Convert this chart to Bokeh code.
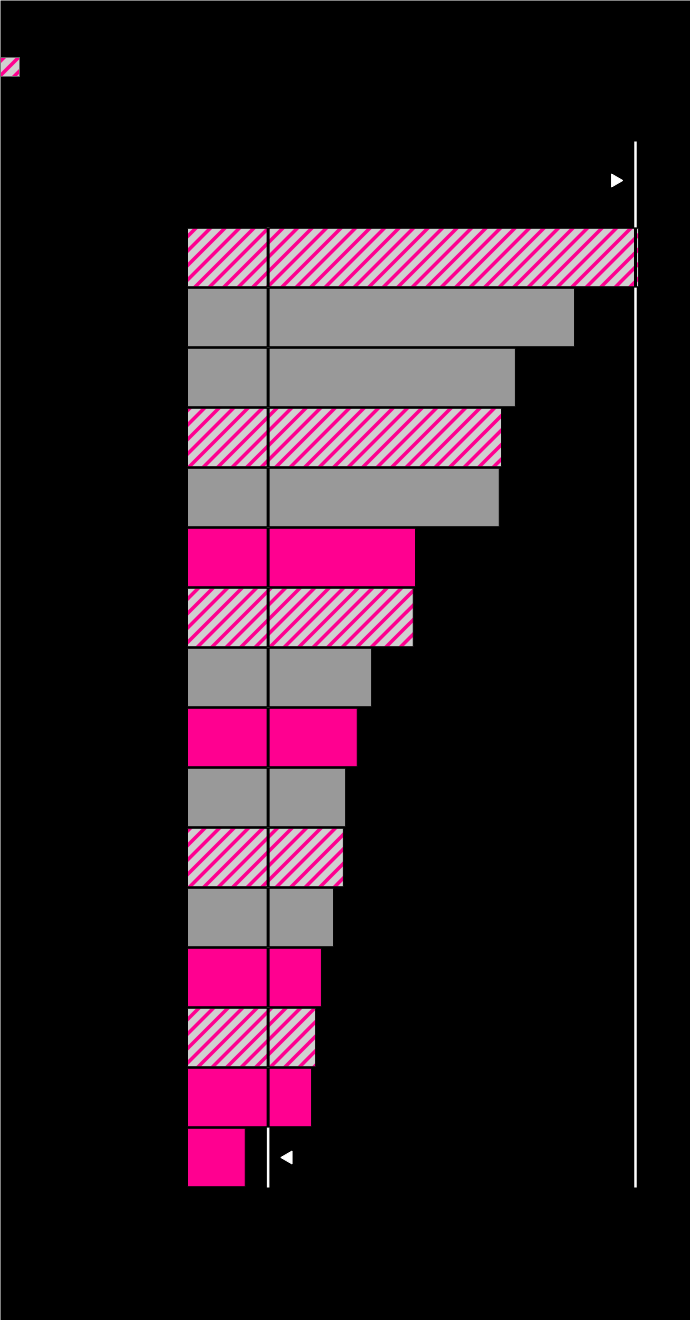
import math
from bokeh.plotting import figure
from bokeh.models import Range1d, ColumnDataSource
from bokeh.embed import file_html
from bokeh.resources import INLINE

# ---- data ----
categories = ["Item 1", "Item 2", "Item 3", "Item 4", "Item 5", "Item 6", "Item 7", "Item 8",
              "Item 9", "Item 10", "Item 11", "Item 12", "Item 13", "Item 14", "Item 15", "Item 16"]
values = [100.7, 86.4, 73.2, 70.1, 69.6, 50.9, 50.4, 41.1, 37.9, 35.3, 34.8, 32.6, 29.9, 28.6, 27.7, 12.9]
kinds = ["hatched", "gray", "gray", "hatched", "gray", "pink", "hatched", "gray",
         "pink", "gray", "hatched", "gray", "pink", "hatched", "pink", "pink"]
target_value = 100
floor_value = 18

# ---- layout / style ----
W, H = 690, 1320
X0_PX = 187.0          # screen px of value 0
PX_PER_UNIT = 4.48
ROW_PX = 60.0
ROW0_PX = 257.0        # screen px (from top) of first row centre
BAR_H = 0.975
PINK = "#FF0090"
GRAY = "#999999"
LIGHT = "#D0D0D0"
STRIPE_PERIOD = 14.5   # horizontal period of the 45deg stripes, px
STRIPE_W = 5.0         # horizontal thickness of a stripe, px


def vx(px):
    return (px - X0_PX) / PX_PER_UNIT


def vy(px):
    return (px - ROW0_PX) / ROW_PX


def to_px_x(v):
    return X0_PX + v * PX_PER_UNIT


def to_px_y(r):
    return ROW0_PX + r * ROW_PX


def clip(poly, a, b, c):
    """keep points with a*x + b*y >= c"""
    out = []
    m = len(poly)
    for k in range(m):
        P, Q = poly[k], poly[(k + 1) % m]
        fp = a * P[0] + b * P[1] - c
        fq = a * Q[0] + b * Q[1] - c
        if fp >= 0:
            out.append(P)
        if (fp >= 0) != (fq >= 0):
            t = fp / (fp - fq)
            out.append((P[0] + t * (Q[0] - P[0]), P[1] + t * (Q[1] - P[1])))
    return out


def stripes(x0, x1, y0, y1):
    """45deg '/' stripes clipped to a screen-px rectangle; returns data-space polygons"""
    rect = [(x0, y0), (x1, y0), (x1, y1), (x0, y1)]
    xs, ys = [], []
    c = math.floor((x0 + y0) / STRIPE_PERIOD) * STRIPE_PERIOD - STRIPE_PERIOD
    while c < x1 + y1:
        poly = clip(rect, 1, 1, c)
        poly = clip(poly, -1, -1, -(c + STRIPE_W)) if poly else poly
        if len(poly) >= 3:
            xs.append([vx(px) for px, _ in poly])
            ys.append([vy(py) for _, py in poly])
        c += STRIPE_PERIOD
    return xs, ys


p = figure(width=W, height=H, output_backend="svg", toolbar_location=None,
           x_range=Range1d(vx(0), vx(W)), y_range=Range1d(vy(H), vy(0)),
           min_border=0, min_border_left=0, min_border_right=0,
           min_border_top=0, min_border_bottom=0)
p.background_fill_color = "black"
p.border_fill_color = "black"
p.outline_line_color = None
p.xgrid.visible = False
p.ygrid.visible = False
p.xaxis.visible = False
p.yaxis.visible = False

idx = list(range(len(categories)))
n = len(categories)

# white reference lines (full span), drawn below the bars
p.segment(x0=[target_value, floor_value], y0=[vy(141), -0.5],
          x1=[target_value, floor_value], y1=[n - 0.5, n - 0.5],
          line_color="white", line_width=2.5)

fills = {"hatched": LIGHT, "gray": GRAY, "pink": PINK}
src = ColumnDataSource(dict(y=idx, right=values, cat=categories,
                            fill=[fills[k] for k in kinds]))
p.hbar(y="y", left=0, right="right", height=BAR_H, source=src,
       fill_color="fill", line_color=None)

# stripes on the hatched bars
sx, sy = [], []
for i in idx:
    if kinds[i] == "hatched":
        xs, ys = stripes(to_px_x(0), to_px_x(values[i]),
                         to_px_y(i - BAR_H / 2), to_px_y(i + BAR_H / 2))
        sx += xs
        sy += ys
# legend swatch (hatched square at the top-left)
LEG = (0.0, 19.0, 57.0, 76.0)
p.quad(left=[vx(LEG[0])], right=[vx(LEG[1])], top=[vy(LEG[2])], bottom=[vy(LEG[3])],
       fill_color=LIGHT, line_color=None)
xs, ys = stripes(*LEG)
sx += xs
sy += ys
p.patches(xs=sx, ys=sy, fill_color=PINK, line_color=None)
p.quad(left=[vx(LEG[0])], right=[vx(LEG[1])], top=[vy(LEG[2])], bottom=[vy(LEG[3])],
       fill_color=None, line_color="#666666", line_width=1)

# bar outlines on top
p.hbar(y="y", left=0, right="right", height=BAR_H, source=src,
       fill_color=None, line_color="black", line_width=1)

# black parts of the reference lines where a bar crosses them
bx0, by0, by1 = [], [], []
for val in (target_value, floor_value):
    for i, v in zip(idx, values):
        if v >= val:
            bx0.append(val); by0.append(i - 0.5); by1.append(i + 0.5)
p.segment(x0=bx0, y0=by0, x1=bx0, y1=by1, line_color="black", line_width=3)

# markers
p.scatter(x=[target_value - 4.5], y=[vy(180)], marker="triangle", angle=-math.pi / 2,
          size=13, fill_color="white", line_color="white")
p.scatter(x=[floor_value + 4.5], y=[n - 1], marker="triangle", angle=math.pi / 2,
          size=13, fill_color="white", line_color="white")

open("out.html", "w").write(file_html(p, INLINE))
